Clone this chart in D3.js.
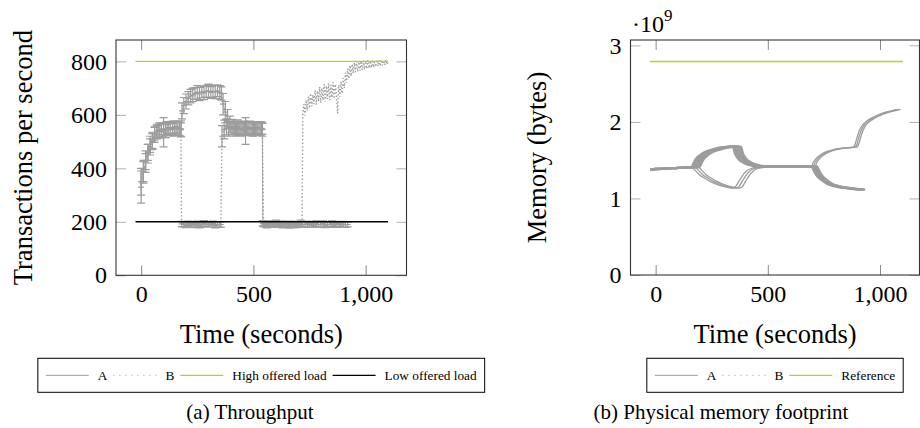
<!DOCTYPE html>
<html>
<head>
<meta charset="utf-8">
<script src="https://cdn.jsdelivr.net/npm/d3@7"></script>
<style>
  body { margin: 0; background: #fff; }
  svg { display: block; font-family: "Liberation Serif", "Times New Roman", serif; }
</style>
</head>
<body>
<svg width="920" height="428"></svg>
<script>
// ---- throughput (transactions / s): [time, mean, error] ----
const tpsA = [
  [0, 330, 60], [10, 390, 40], [20, 420, 35], [30, 455, 35], [40, 480, 30], [50, 505, 30], [60, 525, 28], [70, 535, 25], [80, 545, 25], [90, 540, 25],
  [100, 535, 55], [110, 548, 25], [120, 550, 25], [130, 545, 22], [140, 552, 25], [150, 548, 25], [160, 555, 22], [170, 550, 28], [178, 548, 30],
  [182, 615, 30], [190, 635, 30], [200, 650, 28], [210, 662, 25], [220, 670, 25], [230, 675, 25], [240, 680, 22], [250, 684, 25], [260, 678, 25], [270, 686, 22],
  [280, 682, 25], [290, 688, 22], [300, 690, 25], [310, 684, 22], [320, 688, 22], [330, 686, 25], [340, 690, 22], [350, 684, 25], [358, 680, 25],
  [365, 640, 40], [375, 610, 40], [385, 585, 35], [395, 565, 30], [405, 555, 28], [415, 550, 25], [425, 552, 25], [435, 548, 25], [445, 545, 25], [455, 550, 25],
  [465, 540, 50], [475, 548, 25], [485, 552, 25], [495, 546, 25], [505, 550, 22], [515, 548, 25], [525, 553, 22], [535, 550, 25], [540, 548, 20],
  [542, 195, 10], [550, 192, 10], [560, 189, 9], [570, 193, 11], [580, 188, 8], [590, 191, 10], [600, 194, 12], [610, 189, 9], [620, 192, 10], [630, 187, 8], [640, 191, 11],
  [650, 193, 10], [660, 188, 9], [670, 192, 11], [680, 190, 10], [690, 186, 8], [700, 191, 10], [710, 194, 12], [720, 189, 9], [730, 190, 10], [740, 192, 11],
  [750, 188, 9], [760, 191, 10], [770, 187, 8], [780, 193, 11], [790, 189, 10], [800, 190, 9], [810, 192, 12], [820, 188, 10], [830, 191, 9], [840, 189, 10],
  [850, 193, 11], [860, 187, 8], [870, 190, 10], [880, 192, 10], [890, 188, 9], [900, 191, 11], [910, 189, 10], [920, 190, 9]
];

const tpsB = [
  [0, 350, 50], [10, 385, 40], [20, 430, 35], [30, 460, 30], [40, 490, 30], [50, 500, 30], [60, 530, 25], [70, 540, 25], [80, 538, 25], [90, 548, 22],
  [100, 545, 25], [110, 540, 25], [120, 552, 22], [130, 548, 25], [140, 545, 25], [150, 555, 22], [160, 550, 25], [170, 548, 25], [177, 545, 25],
  [180, 192, 10], [190, 190, 10], [200, 187, 9], [210, 192, 11], [220, 189, 10], [230, 193, 8], [240, 188, 10], [250, 191, 12], [260, 186, 9], [270, 190, 10],
  [280, 194, 11], [290, 189, 9], [300, 191, 10], [310, 188, 8], [320, 192, 11], [330, 187, 10], [340, 190, 9], [350, 189, 10], [355, 190, 10],
  [360, 520, 40], [370, 545, 35], [380, 555, 30], [390, 548, 28], [400, 552, 25], [410, 545, 25], [420, 550, 22], [430, 556, 25], [440, 548, 25], [450, 544, 22],
  [460, 552, 25], [470, 547, 25], [480, 553, 22], [490, 549, 25], [500, 545, 25], [510, 551, 22], [520, 548, 25], [530, 550, 25], [540, 545, 25],
  [545, 192, 10], [550, 191, 10], [560, 188, 11], [570, 193, 9], [580, 190, 10], [590, 187, 8], [600, 192, 12], [610, 189, 10], [620, 194, 9], [630, 188, 11],
  [640, 191, 10], [650, 190, 9], [660, 186, 10], [670, 192, 8], [680, 189, 11], [690, 191, 10], [700, 188, 9], [710, 190, 10], [717, 190, 8],
  [720, 600], [725, 640], [730, 598], [735, 655], [740, 615], [745, 668], [750, 625], [755, 680], [760, 632], [765, 675], [770, 640], [775, 692],
  [780, 638], [785, 690], [790, 650], [795, 705], [800, 645], [805, 700], [810, 655], [815, 715], [820, 650], [825, 708], [830, 660], [835, 718],
  [840, 655], [845, 712], [850, 665], [855, 722], [860, 660], [865, 715], [870, 672], [875, 605], [880, 712], [885, 668], [890, 725], [895, 680],
  [900, 738], [905, 700], [910, 758], [915, 720], [920, 772], [925, 735], [930, 785], [935, 745], [940, 790], [945, 755], [950, 795], [955, 760],
  [960, 800], [965, 762], [970, 798], [975, 765], [980, 802], [985, 768], [990, 803], [995, 770], [1000, 800], [1005, 772], [1010, 805], [1015, 775],
  [1020, 802], [1025, 776], [1030, 806], [1035, 778], [1040, 804], [1045, 780], [1050, 806], [1055, 782], [1060, 805], [1065, 783], [1070, 806],
  [1075, 785], [1080, 804], [1085, 786], [1090, 806], [1095, 788], [1100, 800]
];

// offered load levels
const loadTime = [-25, 1100];
const highLoad = 800;
const lowLoad = 200;

// ---- memory footprint (x 10^9 bytes), one time list per run ----
const memAValues = [1.38, 1.385, 1.39, 1.40, 1.41, 1.47, 1.52, 1.56, 1.60, 1.63, 1.655, 1.67, 1.68, 1.675, 1.60,
  1.54, 1.49, 1.455, 1.43, 1.42, 1.42, 1.42, 1.36, 1.29, 1.24, 1.19, 1.16, 1.14, 1.125, 1.115];
const memATimes = [
  [-25, 0, 50, 100, 160, 170, 180, 195, 215, 240, 270, 300, 335, 345, 352, 362, 378, 400, 430, 470, 550, 695, 705, 720, 740, 765, 795, 830, 870, 910],
  [-25, 0, 50, 100, 169, 179, 189, 204, 224, 249, 279, 309, 344, 354, 361, 371, 387, 409, 439, 479, 550, 701, 711, 726, 746, 771, 801, 836, 876, 916],
  [-25, 0, 50, 100, 178, 188, 198, 213, 233, 258, 288, 318, 353, 363, 370, 380, 396, 418, 448, 488, 550, 707, 717, 732, 752, 777, 807, 842, 882, 922],
  [-25, 0, 50, 100, 187, 197, 207, 222, 242, 267, 297, 327, 362, 372, 379, 389, 405, 427, 457, 497, 550, 713, 723, 738, 758, 783, 813, 848, 888, 928],
  [-25, 0, 50, 100, 196, 206, 216, 231, 251, 276, 306, 336, 371, 381, 388, 398, 414, 436, 466, 506, 550, 719, 729, 744, 764, 789, 819, 854, 894, 934]
];
const memBValues = [1.39, 1.39, 1.395, 1.40, 1.41, 1.37, 1.31, 1.27, 1.22, 1.17, 1.145, 1.135, 1.15, 1.22, 1.29, 1.36, 1.395, 1.41,
  1.42, 1.42, 1.42, 1.47, 1.52, 1.58, 1.62, 1.645, 1.66, 1.67, 1.70, 1.80, 1.90, 1.97, 2.03, 2.09, 2.13, 2.165];
const memBTimes = [
  [-25, 0, 50, 100, 160, 175, 195, 215, 245, 285, 320, 340, 355, 370, 385, 405, 430, 460, 500, 550, 695, 702, 715, 740, 770, 800, 840, 880, 888, 898, 910, 925, 950, 990, 1030, 1075],
  [-25, 0, 50, 100, 175, 190, 210, 230, 260, 300, 335, 355, 370, 385, 400, 420, 445, 475, 515, 550, 703, 710, 723, 748, 778, 808, 848, 888, 896, 906, 918, 933, 958, 998, 1038, 1083],
  [-25, 0, 50, 100, 190, 205, 225, 245, 275, 315, 350, 370, 385, 400, 415, 435, 460, 490, 530, 550, 711, 718, 731, 756, 786, 816, 856, 896, 904, 914, 926, 941, 966, 1006, 1046, 1091]
];
const memReference = 2.79;

// ticks and texts
const timeTicks = [0, 500, 1000];
const tpsTicks = [0, 200, 400, 600, 800];
const memTicks = [0, 1, 2, 3];
const legendThroughput = ['A', 'B', 'High offered load', 'Low offered load'];
const legendMemory = ['A', 'B', 'Reference'];

// ---- styles ----
const grayLine = '#9c9c9c';
const green = '#a8dc10';
const font = '"Liberation Serif", "Times New Roman", serif';

const svg = d3.select('svg');

// panel boxes (pixels)
const pA = { left: 116, right: 406.5, top: 40, bottom: 275.3 };
const pB = { left: 630.5, right: 919.5, top: 40, bottom: 275 };

const xA = d3.scaleLinear().domain([-112, 1182]).range([pA.left, pA.right]);
const yA = d3.scaleLinear().domain([0, 880]).range([pA.bottom, pA.top]);
const xB = d3.scaleLinear().domain([-112, 1176]).range([pB.left, pB.right]);
const yB = d3.scaleLinear().domain([0, 3.07]).range([pB.bottom, pB.top]);

function drawAxes(p, x, y, yTickVals) {
  const g = svg.append('g');
  const styleAxis = (sel, color) => {
    sel.attr('font-family', font).attr('font-size', 24);
    sel.select('.domain').remove();
    sel.selectAll('line').attr('stroke', color);
    sel.selectAll('text').attr('fill', '#000');
  };
  g.append('g').attr('transform', `translate(0,${p.bottom})`)
    .call(d3.axisBottom(x).tickValues(timeTicks).tickSize(-10).tickPadding(10).tickFormat(d3.format(',')))
    .call(styleAxis, '#8a8a8a');
  g.append('g').attr('transform', `translate(0,${p.top})`)
    .call(d3.axisTop(x).tickValues(timeTicks).tickSize(-10).tickFormat(''))
    .call(styleAxis, '#8a8a8a');
  g.append('g').attr('transform', `translate(${p.left},0)`)
    .call(d3.axisLeft(y).tickValues(yTickVals).tickSize(-10).tickPadding(9).tickFormat(d3.format('d')))
    .call(styleAxis, '#b0b0b0');
  g.append('g').attr('transform', `translate(${p.right},0)`)
    .call(d3.axisRight(y).tickValues(yTickVals).tickSize(-10).tickFormat(''))
    .call(styleAxis, '#b0b0b0');
}

function drawFrame(p) {
  svg.append('rect')
    .attr('x', p.left).attr('y', p.top)
    .attr('width', p.right - p.left).attr('height', p.bottom - p.top)
    .attr('fill', 'none').attr('stroke', '#333').attr('stroke-width', 1.1);
}

// error bars with small caps (plus a dash at the mean)
function drawErrorBars(data, x, y) {
  svg.append('path')
    .attr('d', data.filter(d => d[2] > 0).map(d => {
      const cx = x(d[0]), lo = y(d[1] - d[2]), hi = y(d[1] + d[2]), m = y(d[1]);
      return `M${cx},${lo}V${hi}M${cx - 4},${lo}H${cx + 4}M${cx - 4},${hi}H${cx + 4}M${cx - 3},${m}H${cx + 3}`;
    }).join(''))
    .attr('fill', 'none').attr('stroke', grayLine).attr('stroke-width', 1.2);
}

function axisLabels(p, yText, yLabelX) {
  const cx = (p.left + p.right) / 2;
  svg.append('text')
    .attr('x', cx).attr('y', 343)
    .attr('text-anchor', 'middle').attr('font-size', 26.5)
    .text('Time (seconds)');
  svg.append('text')
    .attr('transform', `translate(${yLabelX},${(p.top + p.bottom) / 2}) rotate(-90)`)
    .attr('text-anchor', 'middle').attr('font-size', 26.5)
    .text(yText);
}

function drawLegend(labels, styles, p) {
  const g = svg.append('g').attr('font-size', 13.3);
  let pos = 0;
  labels.forEach((label, i) => {
    g.append('line')
      .attr('x1', pos).attr('x2', pos + 43).attr('y1', 0).attr('y2', 0)
      .attr('stroke', styles[i].color).attr('stroke-width', styles[i].width)
      .attr('stroke-dasharray', styles[i].dash || null);
    const t = g.append('text').attr('x', pos + 52).attr('y', 4.5).text(label);
    pos += 52 + t.node().getComputedTextLength() + 6;
  });
  const w = pos - 6;
  const cx = (p.left + p.right) / 2;
  g.attr('transform', `translate(${cx - w / 2},375.3)`);
  svg.append('rect')
    .attr('x', cx - w / 2 - 8).attr('y', 358.3)
    .attr('width', w + 16).attr('height', 34)
    .attr('fill', 'none').attr('stroke', '#000').attr('stroke-width', 1);
}

// ================= (a) throughput =================
drawAxes(pA, xA, yA, tpsTicks);

const tpsLine = d3.line().x(d => xA(d[0])).y(d => yA(d[1]));

drawErrorBars(tpsA, xA, yA);
svg.append('path').datum(tpsA)
  .attr('d', tpsLine)
  .attr('fill', 'none').attr('stroke', grayLine).attr('stroke-width', 0.9);

drawErrorBars(tpsB, xA, yA);
svg.append('path').datum(tpsB)
  .attr('d', tpsLine)
  .attr('fill', 'none').attr('stroke', grayLine).attr('stroke-width', 1.4)
  .attr('stroke-dasharray', '1.4,2.2');

svg.append('path').datum(loadTime.map(t => [t, highLoad]))
  .attr('d', tpsLine).attr('stroke', green).attr('stroke-width', 1.4);
svg.append('path').datum(loadTime.map(t => [t, lowLoad]))
  .attr('d', tpsLine).attr('stroke', '#000').attr('stroke-width', 1.4);

drawFrame(pA);
axisLabels(pA, 'Transactions per second', 31.5);
drawLegend(legendThroughput, [
  { color: grayLine, width: 1 },
  { color: grayLine, width: 1, dash: '1,5' },
  { color: green, width: 1.3 },
  { color: '#000', width: 1.2 }
], pA);

svg.append('text')
  .attr('x', 250).attr('y', 419)
  .attr('text-anchor', 'middle').attr('font-size', 21)
  .text('(a) Throughput');

// ================= (b) memory =================
drawAxes(pB, xB, yB, memTicks);

const memLine = d3.line().curve(d3.curveMonotoneX).x(d => xB(d[0])).y(d => yB(d[1]));

memATimes.forEach(run => {
  svg.append('path').datum(run.map((t, i) => [t, memAValues[i]]))
    .attr('d', memLine)
    .attr('fill', 'none').attr('stroke', grayLine).attr('stroke-width', 2.3);
});
memBTimes.forEach(run => {
  svg.append('path').datum(run.map((t, i) => [t, memBValues[i]]))
    .attr('d', memLine)
    .attr('fill', 'none').attr('stroke', grayLine).attr('stroke-width', 1.3);
});

svg.append('path').datum([[-25, memReference], [1102, memReference]])
  .attr('d', memLine).attr('stroke', green).attr('stroke-width', 1.4);

drawFrame(pB);
axisLabels(pB, 'Memory (bytes)', 546);

// ·10^9 exponent label
const expo = svg.append('text').attr('x', 632).attr('y', 31.5).attr('font-size', 24);
expo.append('tspan').text('\u00b710');
expo.append('tspan').attr('font-size', 17).attr('dy', -11).text('9');

drawLegend(legendMemory, [
  { color: grayLine, width: 1 },
  { color: grayLine, width: 1, dash: '1,5' },
  { color: green, width: 1.3 }
], pB);

svg.append('text')
  .attr('x', 721).attr('y', 419)
  .attr('text-anchor', 'middle').attr('font-size', 21)
  .text('(b) Physical memory footprint');
</script>
</body>
</html>
